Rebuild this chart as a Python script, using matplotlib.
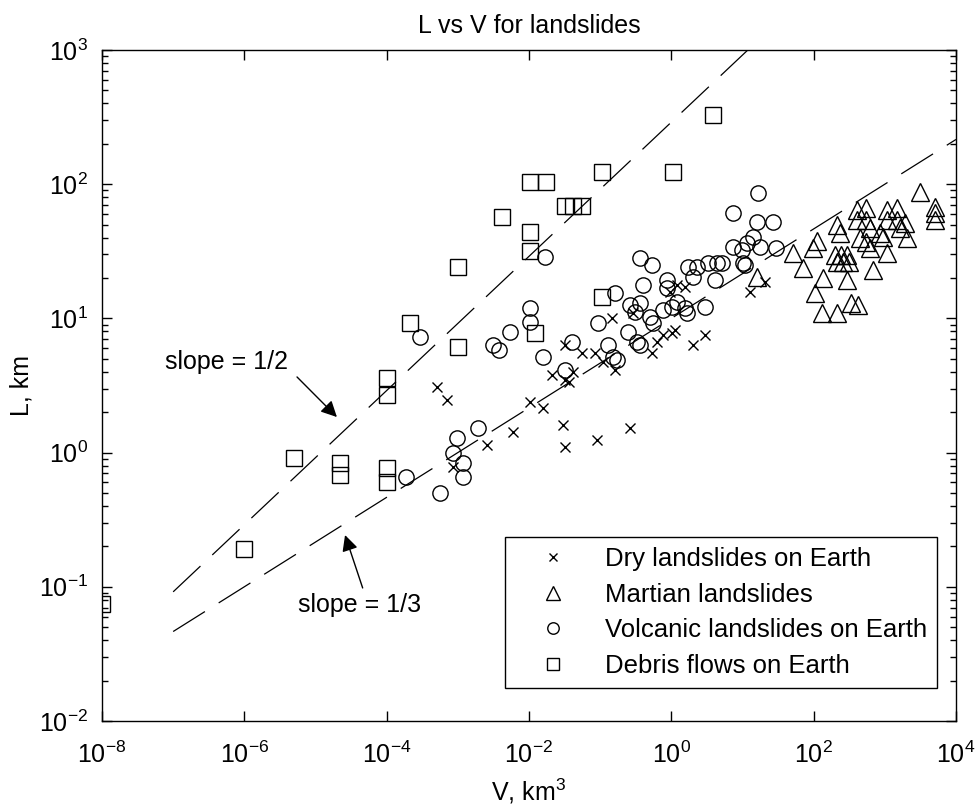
#!/usr/bin/env python
"""L vs V for landslides (log-log scatter with slope guides)"""

import sys

import numpy as np
import matplotlib
matplotlib.use("Agg")
import matplotlib.pyplot as plt
from matplotlib.ticker import LogLocator, NullLocator, NullFormatter

plt.rcParams['font.family'] = ['Liberation Sans', 'DejaVu Sans']
plt.rcParams['mathtext.fontset'] = 'custom'
plt.rcParams['mathtext.rm'] = 'Liberation Sans'
plt.rcParams['mathtext.it'] = 'Liberation Sans:italic'

# volume (km^3) and runout length (km)
dry_v = [5.1e-4, 7.0e-4, 8.5e-4, 2.6e-3, 5.9e-3, 0.0103, 0.0156, 0.030,
         0.032, 0.0895, 0.26, 0.021, 0.032, 0.037, 0.032, 0.055, 0.084,
         0.109, 0.160, 0.53, 0.62, 0.76, 1.01, 2.0, 2.94, 0.146, 0.287,
         0.95, 1.12, 12.6, 20.5, 1.19, 1.54, 0.041]
dry_l = [3.08, 2.47, 0.78, 1.14, 1.43, 2.38, 2.15, 1.61,
         1.10, 1.24, 1.52, 3.79, 3.48, 3.36, 6.3, 5.5, 5.5,
         4.73, 4.13, 5.5, 6.7, 7.5, 7.8, 6.3, 7.5, 10.1, 11.0,
         15.7, 8.2, 15.7, 18.7, 17.7, 17.1, 4.0]

mars_v = [16, 51, 70, 103, 134, 129, 210, 290, 340, 415, 675, 1070, 2040,
          3170, 5000, 5000, 5000, 210, 232, 110, 97, 197, 240, 290, 210,
          255, 310, 400, 550, 400, 550, 610, 445, 550, 610, 1070, 1480,
          1070, 1480, 1620, 1910, 850, 935]
mars_l = [20.3, 30.7, 23.8, 15.5, 20, 11, 11, 19.3, 13, 12.6, 23, 30.7, 39.7,
          87, 67.6, 61, 54, 49.7, 43, 38, 33.5, 29.7, 29.7, 29.7, 26.3,
          26.3, 26.3, 64, 66.5, 54, 54, 47, 39.7, 37, 33.5, 64, 66.5,
          54, 54, 47, 51, 43, 40.4]

volc_v = [2.9e-4, 1.86e-4, 5.6e-4, 9.7e-4, 8.5e-4, 1.17e-3, 1.17e-3, 1.9e-3,
          3.1e-3, 3.8e-3, 5.4e-3, 0.0103, 0.0103, 0.0156, 0.032, 0.040,
          0.0167, 0.092, 0.128, 0.150, 0.171, 0.160, 0.244, 0.327, 0.36,
          0.26, 0.36, 0.306, 0.50, 0.55, 0.76, 1.01, 1.19, 1.54, 1.64, 2.94,
          0.36, 0.53, 0.40, 0.86, 0.86, 1.70, 2.28, 3.24, 4.35, 5.1, 2.0,
          4.07, 7.3, 9.75, 11.5, 13.9, 10.1, 7.3, 15.8, 26.5, 17.5, 30,
          16.3, 10.7]
volc_l = [7.3, 0.66, 0.50, 1.29, 0.99, 0.84, 0.66, 1.52,
          6.3, 5.8, 7.9, 12.0, 9.4, 5.15, 4.13, 6.7,
          28.7, 9.2, 6.3, 5.15, 4.9, 15.5, 7.9, 6.7, 6.3,
          12.6, 13.0, 11.2, 10.2, 9.2, 11.6, 12.2, 13.2, 12.0, 11.0, 12.2,
          28.2, 25, 17.7, 19.3, 16.9, 24.2, 24.2, 25.9, 25.9, 25.9, 20.4,
          19.3, 34, 32.4, 36.5, 40.4, 25.9, 61, 52, 52, 34, 33.5,
          86, 25]

debris_v = [1e-8, 1e-6, 5e-6, 2.2e-5, 2.2e-5, 1e-4, 1e-4, 1e-4, 1e-4,
            2.1e-4, 1e-3, 1e-3, 4.2e-3, 0.0102, 0.0102, 0.0102, 0.0174,
            0.0316, 0.041, 0.055, 0.105, 1.05, 3.9, 0.105, 0.012]
debris_l = [0.074, 0.19, 0.91, 0.84, 0.68, 3.6, 2.7, 0.77, 0.60,
            9.2, 24, 6.1, 57, 44, 32, 104, 104,
            69, 69, 69, 123, 123, 328, 14.5, 7.8]

legend_labels = ["Dry landslides on Earth", "Martian landslides",
                 "Volcanic landslides on Earth", "Debris flows on Earth"]

# guide lines L = c * V^slope
slopes = [1.0 / 2.0, 1.0 / 3.0]
coeffs = [290.0, 10.0]
guide_vmin, guide_vmax = 1e-7, 1e4


def _main():
    fig = plt.figure(figsize=(9.77, 8.09), dpi=100)
    ax = fig.add_axes([0.1044, 0.1088, 0.8741, 0.8294])

    mk = dict(linestyle='none', markerfacecolor='none', markeredgecolor='k',
              markeredgewidth=1.0)
    ax.loglog(dry_v, dry_l, marker='x', markersize=7,
              label=legend_labels[0], **mk)
    ax.loglog(mars_v, mars_l, marker='^', markersize=13,
              label=legend_labels[1], **mk)
    ax.loglog(volc_v, volc_l, marker='o', markersize=11,
              label=legend_labels[2], **mk)
    ax.loglog(debris_v, debris_l, marker='s', markersize=11,
              label=legend_labels[3], **mk)

    vv = np.logspace(np.log10(guide_vmin), np.log10(guide_vmax), 300)
    for s, c in zip(slopes, coeffs):
        ax.loglog(vv, c * vv ** s, color='k', lw=0.9, dashes=(30, 13))

    ax.set_xlim(1e-8, 1e4)
    ax.set_ylim(1e-2, 1e3)
    ax.set_xticks([10.0 ** k for k in range(-8, 5, 2)])
    ax.xaxis.set_minor_locator(NullLocator())
    ax.yaxis.set_major_locator(LogLocator(base=10, numticks=10))
    ax.yaxis.set_minor_locator(LogLocator(base=10, subs=np.arange(2, 10),
                                          numticks=20))
    ax.yaxis.set_minor_formatter(NullFormatter())
    ax.tick_params(which='both', direction='in', top=True, right=True,
                   labelsize=18, width=1.0)
    ax.tick_params(which='major', length=7)
    ax.tick_params(axis='x', which='major', pad=15)
    ax.tick_params(axis='y', which='major', pad=10)
    ax.tick_params(which='minor', length=4.5)
    for sp in ax.spines.values():
        sp.set_linewidth(1.0)

    ax.set_title("L vs V for landslides", fontsize=18, pad=12)
    ax.set_xlabel(r"V, km$^3$", fontsize=18, labelpad=6)
    ax.set_ylabel("L, km", fontsize=18, labelpad=4)

    # slope annotations
    ax.text(5.7e-7, 4.73, "slope = 1/2", fontsize=18, ha='center',
            va='center')
    ax.annotate("", xy=(2.0e-5, 1.84), xytext=(5.5e-6, 3.66),
                arrowprops=dict(arrowstyle='-|>', color='k', lw=1.0,
                                mutation_scale=24, shrinkA=0, shrinkB=0))
    ax.text(4.2e-5, 0.073, "slope = 1/3", fontsize=18, ha='center',
            va='center')
    ax.annotate("", xy=(2.6e-5, 0.243), xytext=(4.6e-5, 0.098),
                arrowprops=dict(arrowstyle='-|>', color='k', lw=1.0,
                                mutation_scale=24, shrinkA=0, shrinkB=0))

    leg = ax.legend(loc='lower right', bbox_to_anchor=(0.978, 0.049),
                    fontsize=18.5, frameon=True, fancybox=False,
                    handlelength=3.0, handletextpad=0.5, labelspacing=0.45,
                    borderpad=0.4, markerscale=0.75, borderaxespad=0)
    leg.get_frame().set_edgecolor('k')
    leg.get_frame().set_linewidth(1.0)
    leg.get_frame().set_alpha(1.0)

    fig.savefig("out.png", dpi=100)
    plt.close(fig)
    return 0


if __name__ == "__main__":
    sys.exit(_main())
